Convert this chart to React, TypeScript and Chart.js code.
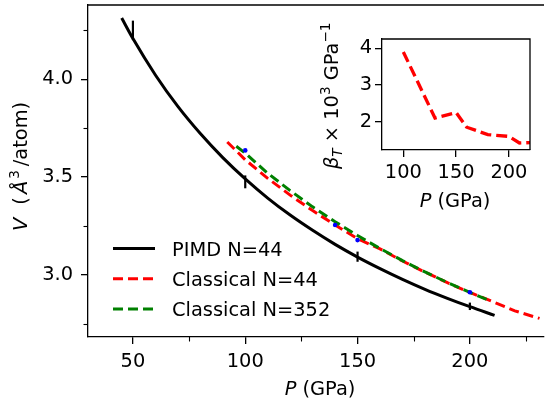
import React, { useEffect, useRef } from 'react';
import { Chart, registerables } from 'chart.js';
Chart.register(...registerables);

const FAMILY = '"DejaVu Sans", sans-serif';
const FS = 19.4;

// PIMD N=44 (black solid)
const pimdP = [45, 50, 60, 70, 80, 90, 100, 110, 120, 130, 140, 150, 160, 170, 180, 190, 200, 211];
const pimdV = [4.313, 4.208, 4.022, 3.861, 3.722, 3.599, 3.49, 3.392, 3.305, 3.227, 3.155, 3.09, 3.031, 2.976, 2.925, 2.879, 2.836, 2.792];
// error bars on PIMD
const errP = [50, 100, 150, 200];
const errV = [4.25, 3.475, 3.092, 2.838];
const errD = [0.05, 0.033, 0.026, 0.019];
// Classical N=44 (red dashed)
const redP = [92, 100, 110, 120, 130, 140, 150, 160, 170, 180, 190, 200, 210, 220, 231];
const redV = [3.679, 3.588, 3.493, 3.407, 3.328, 3.254, 3.184, 3.132, 3.07, 3.013, 2.959, 2.909, 2.863, 2.815, 2.776];
// Classical N=352 (green dashed)
const greenP = [96, 100, 110, 120, 130, 140, 150, 160, 170, 180, 190, 200, 209];
const greenV = [3.657, 3.622, 3.519, 3.43, 3.347, 3.271, 3.2, 3.134, 3.072, 3.014, 2.96, 2.909, 2.866];
// blue markers
const blueP = [100, 140, 150, 200];
const blueV = [3.636, 3.254, 3.177, 2.91];
// inset: compressibility
const insetP = [100, 130, 150, 160, 180, 200, 210, 220];
const insetB = [3.9, 2.1, 2.25, 1.85, 1.65, 1.6, 1.42, 1.43];

// ticks
const xMajor = [50, 100, 150, 200];
const xMinor = [75, 125, 175, 225];
const yMajor = [3.0, 3.5, 4.0];
const yMinor = [2.75, 3.25, 3.75, 4.25];
const insetXTicks = [100, 150, 200];
const insetYTicks = [2, 3, 4];

const legendLabels = ['PIMD N=44', 'Classical N=44', 'Classical N=352'];

type Piece = { t: string; i?: boolean; sup?: boolean; sub?: boolean; gap?: number };

const yTitle: Piece[] = [
  { t: 'V', i: true, gap: 7 }, { t: ' (', gap: 3 }, { t: 'Å', i: true, gap: 2 }, { t: '3', sup: true, gap: 4 }, { t: '/atom)' },
];
const xTitle: Piece[] = [{ t: 'P', i: true }, { t: ' (GPa)' }];
const insetYTitle: Piece[] = [
  { t: 'β', i: true }, { t: 'T', i: true, sub: true }, { t: ' × 10' }, { t: '3', sup: true },
  { t: ' GPa' }, { t: '−1', sup: true },
];

function pieceFont(p: Piece) {
  const size = p.sup || p.sub ? FS * 0.7 : FS;
  return `${p.i ? 'italic ' : ''}${size}px ${FAMILY}`;
}
function measureRich(ctx: CanvasRenderingContext2D, pieces: Piece[]) {
  let w = 0;
  for (const p of pieces) {
    ctx.font = pieceFont(p);
    w += ctx.measureText(p.t).width + (p.gap || 0);
  }
  return w;
}
function drawRich(ctx: CanvasRenderingContext2D, pieces: Piece[], x: number, y: number) {
  let cx = x;
  ctx.textBaseline = 'alphabetic';
  ctx.textAlign = 'left';
  for (const p of pieces) {
    ctx.font = pieceFont(p);
    const dy = p.sup ? -0.42 * FS : p.sub ? 0.22 * FS : 0;
    ctx.fillText(p.t, cx, y + dy);
    cx += ctx.measureText(p.t).width + (p.gap || 0);
  }
}
function drawRichCentered(ctx: CanvasRenderingContext2D, pieces: Piece[], cx: number, baseline: number) {
  const w = measureRich(ctx, pieces);
  drawRich(ctx, pieces, cx - w / 2, baseline);
}
function drawRichVertical(ctx: CanvasRenderingContext2D, pieces: Piece[], baseX: number, cy: number) {
  const w = measureRich(ctx, pieces);
  ctx.save();
  ctx.translate(baseX, cy);
  ctx.rotate(-Math.PI / 2);
  drawRich(ctx, pieces, -w / 2, 0);
  ctx.restore();
}

const pts = (xs: number[], ys: number[]) => xs.map((x, i) => ({ x, y: ys[i] }));

const zeroPad = (s: any) => {
  s.paddingTop = 0;
  s.paddingBottom = 0;
  s.paddingLeft = 0;
  s.paddingRight = 0;
};

const mainPlugin = {
  id: 'mainDecor',
  afterDatasetsDraw(chart: any) {
    const { ctx, scales } = chart;
    const x = scales.x, y = scales.y;
    ctx.save();
    ctx.strokeStyle = '#000';
    ctx.lineWidth = 2.2;
    errP.forEach((p, i) => {
      const px = x.getPixelForValue(p);
      ctx.beginPath();
      ctx.moveTo(px, y.getPixelForValue(errV[i] - errD[i]));
      ctx.lineTo(px, y.getPixelForValue(errV[i] + errD[i]));
      ctx.stroke();
    });
    ctx.restore();
  },
  afterDraw(chart: any) {
    const { ctx, chartArea: ca, scales } = chart;
    const x = scales.x, y = scales.y;
    ctx.save();
    ctx.strokeStyle = '#000';
    ctx.lineWidth = 1.3;
    ctx.beginPath();
    ctx.moveTo(ca.left, ca.top);
    ctx.lineTo(ca.right, ca.top);
    ctx.stroke();
    // minor ticks
    ctx.lineWidth = 1.1;
    for (const v of xMinor) {
      const px = Math.round(x.getPixelForValue(v)) + 0.5;
      ctx.beginPath();
      ctx.moveTo(px, ca.bottom);
      ctx.lineTo(px, ca.bottom + 4.5);
      ctx.stroke();
    }
    for (const v of yMinor) {
      const py = Math.round(y.getPixelForValue(v)) + 0.5;
      ctx.beginPath();
      ctx.moveTo(ca.left - 4.5, py);
      ctx.lineTo(ca.left, py);
      ctx.stroke();
    }
    // legend
    const ds = chart.data.datasets;
    legendLabels.forEach((lab, i) => {
      const d = ds.find((q: any) => q.label === lab);
      const ly = 248.5 + i * 30.3;
      ctx.save();
      ctx.strokeStyle = d.borderColor;
      ctx.lineWidth = d.borderWidth;
      ctx.setLineDash(d.borderDash || []);
      ctx.beginPath();
      ctx.moveTo(113, ly);
      ctx.lineTo(155, ly);
      ctx.stroke();
      ctx.restore();
      ctx.fillStyle = '#000';
      ctx.font = `${FS}px ${FAMILY}`;
      ctx.textAlign = 'left';
      ctx.textBaseline = 'alphabetic';
      ctx.fillText(lab, 172, ly + 7);
    });
    // titles
    ctx.fillStyle = '#000';
    drawRichCentered(ctx, xTitle, 320, 394.5);
    drawRichVertical(ctx, yTitle, 27, 166.5);
    ctx.restore();
  },
};

const insetPlugin = {
  id: 'insetDecor',
  beforeDraw(chart: any) {
    const { ctx, chartArea: ca } = chart;
    ctx.save();
    ctx.fillStyle = '#fff';
    ctx.fillRect(ca.left, ca.top, ca.right - ca.left, ca.bottom - ca.top);
    ctx.restore();
  },
  afterDraw(chart: any) {
    const { ctx, chartArea: ca } = chart;
    ctx.save();
    ctx.strokeStyle = '#000';
    ctx.lineWidth = 1.3;
    ctx.beginPath();
    ctx.moveTo(ca.left, ca.top);
    ctx.lineTo(ca.right, ca.top);
    ctx.lineTo(ca.right, ca.bottom);
    ctx.stroke();
    ctx.fillStyle = '#000';
    drawRichCentered(ctx, xTitle, 155, 207);
    drawRichVertical(ctx, insetYTitle, 38, 95.8);
    ctx.restore();
  },
};

const tickFont = { family: FAMILY, size: FS };

export default function App() {
  const mainRef = useRef<HTMLCanvasElement>(null);
  const insetRef = useRef<HTMLCanvasElement>(null);

  useEffect(() => {
    const main = new Chart(mainRef.current as HTMLCanvasElement, {
      type: 'line',
      data: {
        datasets: [
          {
            label: 'blue',
            data: pts(blueP, blueV),
            showLine: false,
            pointRadius: 2.3,
            pointBackgroundColor: '#0000ff',
            pointBorderWidth: 0,
            order: 0,
          },
          {
            label: 'Classical N=352',
            data: pts(greenP, greenV),
            borderColor: '#008000',
            borderWidth: 3,
            borderDash: [10, 5],
            pointRadius: 0,
            fill: false,
            order: 1,
          },
          {
            label: 'Classical N=44',
            data: pts(redP, redV),
            borderColor: '#ff0000',
            borderWidth: 3,
            borderDash: [10, 5],
            pointRadius: 0,
            fill: false,
            order: 2,
          },
          {
            label: 'PIMD N=44',
            data: pts(pimdP, pimdV),
            borderColor: '#000000',
            borderWidth: 3,
            pointRadius: 0,
            fill: false,
            cubicInterpolationMode: 'monotone',
            order: 3,
          },
        ] as any,
      },
      options: {
        animation: false,
        responsive: false,
        events: [],
        layout: { padding: { top: 5, right: 0, bottom: 0, left: 0 } },
        plugins: { legend: { display: false }, tooltip: { enabled: false } },
        scales: {
          x: {
            type: 'linear',
            position: 'bottom',
            min: 30,
            max: 233,
            afterBuildTicks: (s: any) => { s.ticks = xMajor.map((v) => ({ value: v })); },
            afterFit: (s: any) => { s.height = 68; zeroPad(s); },
            ticks: { font: tickFont, color: '#000', padding: 6, maxRotation: 0, autoSkip: false, callback: (v: any) => String(v) },
            grid: { display: true, drawOnChartArea: false, drawTicks: true, tickLength: 7, color: '#000', lineWidth: 1.3 },
            border: { display: true, color: '#000', width: 1.3 },
          },
          y: {
            type: 'linear',
            position: 'left',
            min: 2.681,
            max: 4.38,
            afterBuildTicks: (s: any) => { s.ticks = yMajor.map((v) => ({ value: v })); },
            afterFit: (s: any) => { s.width = 88; zeroPad(s); },
            ticks: { font: tickFont, color: '#000', padding: 8, autoSkip: false, callback: (v: any) => Number(v).toFixed(1) },
            grid: { display: true, drawOnChartArea: false, drawTicks: true, tickLength: 7, color: '#000', lineWidth: 1.3 },
            border: { display: true, color: '#000', width: 1.3 },
          },
        },
      } as any,
      plugins: [mainPlugin],
    });

    const inset = new Chart(insetRef.current as HTMLCanvasElement, {
      type: 'line',
      data: {
        datasets: [
          {
            label: 'beta',
            data: pts(insetP, insetB),
            borderColor: '#ff0000',
            borderWidth: 3.3,
            borderDash: [11, 5],
            pointRadius: 0,
            fill: false,
          },
        ] as any,
      },
      options: {
        animation: false,
        responsive: false,
        events: [],
        layout: { padding: { top: 39, right: 18, bottom: 0, left: 0 } },
        plugins: { legend: { display: false }, tooltip: { enabled: false } },
        scales: {
          x: {
            type: 'linear',
            position: 'bottom',
            min: 79.8,
            max: 220,
            afterBuildTicks: (s: any) => { s.ticks = insetXTicks.map((v) => ({ value: v })); },
            afterFit: (s: any) => { s.height = 65; zeroPad(s); },
            ticks: { font: tickFont, color: '#000', padding: 4.6, maxRotation: 0, autoSkip: false, callback: (v: any) => String(v) },
            grid: { display: true, drawOnChartArea: false, drawTicks: true, tickLength: 7, color: '#000', lineWidth: 1.3 },
            border: { display: true, color: '#000', width: 1.3 },
          },
          y: {
            type: 'linear',
            position: 'left',
            min: 1.229,
            max: 4.253,
            afterBuildTicks: (s: any) => { s.ticks = insetYTicks.map((v) => ({ value: v })); },
            afterFit: (s: any) => { s.width = 82; zeroPad(s); },
            ticks: { font: tickFont, color: '#000', padding: 3, autoSkip: false, callback: (v: any) => String(v) },
            grid: { display: true, drawOnChartArea: false, drawTicks: true, tickLength: 7, color: '#000', lineWidth: 1.3 },
            border: { display: true, color: '#000', width: 1.3 },
          },
        },
      } as any,
      plugins: [insetPlugin],
    });

    return () => {
      main.destroy();
      inset.destroy();
    };
  }, []);

  return (
    <div style={{ position: 'absolute', left: 0, top: 0, width: 548, height: 405, background: '#fff', overflow: 'hidden' }}>
      <canvas ref={mainRef} width={548} height={405} style={{ position: 'absolute', left: 0, top: 0 }} />
      <canvas ref={insetRef} width={248} height={215} style={{ position: 'absolute', left: 300, top: 0 }} />
    </div>
  );
}
